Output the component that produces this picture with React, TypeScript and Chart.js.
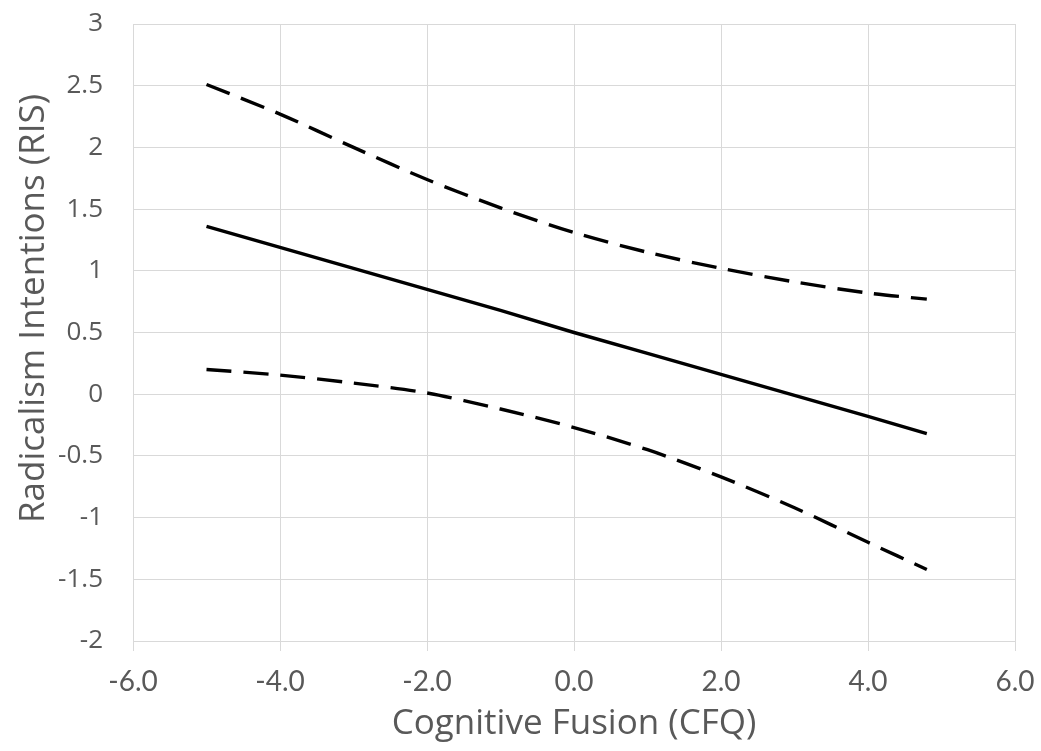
import React, { useEffect, useRef } from "react";
import { Chart, registerables } from "chart.js";

Chart.register(...registerables);

const xValues = [-5, -4, -3, -2, -1, 0, 1, 2, 3, 4, 4.8];
const estimate = [1.36, 1.19, 1.02, 0.85, 0.68, 0.5, 0.33, 0.16, -0.01, -0.18, -0.32];
const upperBound = [2.51, 2.27, 2.0, 1.74, 1.51, 1.31, 1.15, 1.02, 0.91, 0.82, 0.77];
const lowerBound = [0.2, 0.155, 0.09, 0.01, -0.12, -0.27, -0.45, -0.67, -0.92, -1.2, -1.42];

const xTitle = "Cognitive Fusion (CFQ)";
const yTitle = "Radicalism Intentions (RIS)";

const toPoints = (ys: number[]) => xValues.map((x, i) => ({ x, y: ys[i] }));

const textColor = "#595959";
const gridColor = "#d9d9d9";

const yTitlePlugin = {
  id: "yTitlePlugin",
  afterDraw(chart: any) {
    const { ctx, chartArea } = chart;
    ctx.save();
    ctx.fillStyle = textColor;
    ctx.font = "35px 'Open Sans'";
    ctx.textAlign = "center";
    ctx.textBaseline = "middle";
    ctx.translate(34, (chartArea.top + chartArea.bottom) / 2 - 24);
    ctx.rotate(-Math.PI / 2);
    ctx.fillText(yTitle, 0, 0);
    ctx.restore();
  },
};

export default function App() {
  const ref = useRef<HTMLCanvasElement | null>(null);
  useEffect(() => {
    if (!ref.current) return;
    const chart = new Chart(ref.current, {
      type: "line",
      data: {
        datasets: [
          {
            label: "Estimate",
            data: toPoints(estimate),
            borderColor: "#000",
            borderWidth: 3.4,
            pointRadius: 0,
            tension: 0,
            fill: false,
          },
          {
            label: "Upper",
            data: toPoints(upperBound),
            borderColor: "#000",
            borderWidth: 3.4,
            borderDash: [25, 12],
            pointRadius: 0,
            tension: 0.3,
            fill: false,
          },
          {
            label: "Lower",
            data: toPoints(lowerBound),
            borderColor: "#000",
            borderWidth: 3.4,
            borderDash: [25, 12],
            pointRadius: 0,
            tension: 0.3,
            fill: false,
          },
        ],
      },
      options: {
        animation: false,
        responsive: false,
        maintainAspectRatio: false,
        layout: { padding: { top: 24, right: 26, left: 0, bottom: 0 } },
        plugins: {
          legend: { display: false },
          tooltip: { enabled: false },
          title: { display: false },
        },
        scales: {
          x: {
            type: "linear",
            min: -6,
            max: 6,
            afterFit: (s: any) => {
              s.height = 110;
              s.paddingLeft = 0;
              s.paddingRight = 0;
            },
            ticks: {
              stepSize: 2,
              color: textColor,
              font: { family: "Lato", size: 28 },
              padding: 14,
              maxRotation: 0,
              callback: (v: any) => Number(v).toFixed(1),
            },
            grid: { color: gridColor, lineWidth: 1, tickLength: 10, drawTicks: true },
            border: { color: gridColor },
            title: {
              display: true,
              text: xTitle,
              color: textColor,
              font: { family: "Open Sans", size: 35 },
              padding: { top: 0, bottom: 6 },
            },
          },
          y: {
            type: "linear",
            min: -2,
            max: 3,
            afterFit: (s: any) => {
              s.width = 133;
              s.paddingTop = 0;
              s.paddingBottom = 0;
            },
            ticks: {
              stepSize: 0.5,
              color: textColor,
              font: { family: "Open Sans", size: 26 },
              padding: 30,
              callback: (v: any) => String(Number(v)),
            },
            grid: { color: gridColor, lineWidth: 1, drawTicks: false },
            border: { color: gridColor },
            title: { display: false },
          },
        },
      },
      plugins: [yTitlePlugin],
    });
    return () => chart.destroy();
  }, []);
  return (
    <div style={{ position: "fixed", left: 0, top: 0, width: 1041, height: 751, background: "#fff" }}>
      <canvas ref={ref} width={1041} height={751} style={{ width: 1041, height: 751 }} />
    </div>
  );
}
